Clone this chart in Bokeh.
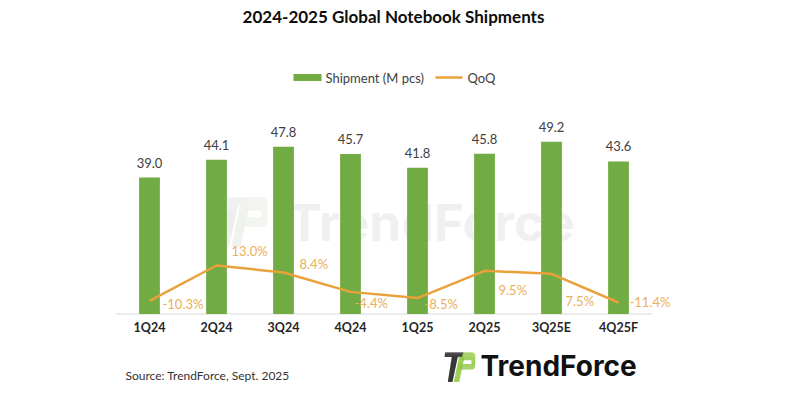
from bokeh.plotting import figure
from bokeh.models import ColumnDataSource, Range1d, FactorRange, Label, BoxAnnotation
from bokeh.embed import file_html
from bokeh.resources import INLINE
from bokeh.core.properties import value

# ---------------- data ----------------
quarters = ["1Q24", "2Q24", "3Q24", "4Q24", "1Q25", "2Q25", "3Q25E", "4Q25F"]
shipments = [39.0, 44.1, 47.8, 45.7, 41.8, 45.8, 49.2, 43.6]
qoq = [-10.3, 13.0, 8.4, -4.4, -8.5, 9.5, 7.5, -11.4]

title_text = "2024-2025 Global Notebook Shipments"
legend_bar = "Shipment (M pcs)"
legend_line = "QoQ"
source_text = "Source: TrendForce, Sept. 2025"
brand = "TrendForce"

# label placement (screen px offsets, layout only)
qoq_dx = [13, 15, 16, 4, 7, 14, 14, 11]
qoq_dy = [3, -14, -8, 11, 6, 19, 27, 0]

GREEN = "#71AB43"
ORANGE = "#E9A23B"
ORANGE_TXT = "#EAB05C"
FONT = "Lato"

W, H = 784, 383
FW = 767                 # frame width (symmetric categorical padding)
CAT = 67.0               # px per category
BASE = 313.5             # baseline y (px from top)
PXU = 3.5                # px per M pcs
Q0, QPX = 284.7, 1.516   # y of 0 % and px per %

p = figure(width=W, height=H, output_backend="svg", toolbar_location=None,
           x_range=FactorRange(*quarters, range_padding=(FW / 2 - 4 * CAT) / CAT,
                               range_padding_units="absolute"),
           y_range=Range1d(-(H - BASE) / PXU, BASE / PXU),
           min_border_left=0, min_border_right=W - FW,
           min_border_top=0, min_border_bottom=0,
           y_axis_location=None)
p.extra_y_ranges = {"qoq": Range1d(-(H - Q0) / QPX, Q0 / QPX), "px": Range1d(H, 0)}
p.outline_line_color = None
p.xgrid.visible = False
p.ygrid.visible = False
p.background_fill_color = "white"
p.border_fill_color = "white"

xa = p.xaxis[0]
xa.fixed_location = 0
xa.axis_line_color = None
xa.major_tick_line_color = None
xa.minor_tick_line_color = None
xa.major_tick_out = 0
xa.major_tick_in = 0
xa.major_label_standoff = 6
xa.major_label_text_font = FONT
xa.major_label_text_font_style = "bold"
xa.major_label_text_font_size = "12.5px"
xa.major_label_text_color = "#262626"

# ---------------- helpers (screen x, px-y) ----------------
def box(l, r, t, b, col, level="annotation"):
    p.add_layout(BoxAnnotation(left=l, right=r, top=t, bottom=b,
                               left_units="screen", right_units="screen",
                               y_range_name="px", fill_color=col, fill_alpha=1,
                               line_color=None, level=level))

def scan_fill(poly_pts, ox, oy, s, col, level="annotation"):
    ys = [b for a, b in poly_pts]
    y0, y1 = min(ys), max(ys)
    n = max(1, int(round((y1 - y0) * s)))
    for k in range(n):
        yc = y0 + (k + 0.5) * (y1 - y0) / n
        xs = []
        m = len(poly_pts)
        for i in range(m):
            (ax, ay), (bx, by) = poly_pts[i], poly_pts[(i + 1) % m]
            if (ay - yc) * (by - yc) <= 0 and ay != by:
                xs.append(ax + (yc - ay) * (bx - ax) / (by - ay))
        if len(xs) >= 2:
            t = oy + s * (y0 + k * (y1 - y0) / n)
            b = oy + s * (y0 + (k + 1) * (y1 - y0) / n)
            box(ox + s * min(xs), ox + s * max(xs), t, b, col, level)

ICON_BLACK = [
    [(0.7, 0), (19.3, 0), (17.7, 4.3), (0, 4.3)],
    [(7.3, 4.3), (13.3, 4.3), (8.0, 29.3), (3.3, 29.3)],
]
ICON_GREEN = [
    [(18.5, 0), (28.5, 0), (30.7, 2), (30.7, 7.7), (16.5, 7.7)],
    [(27.0, 7.7), (30.7, 7.7), (30.7, 11.7), (27.0, 11.7)],
    [(14.5, 11.7), (30.7, 11.7), (30.2, 15.5), (28.5, 17.0), (13.5, 17.0)],
    [(14.5, 4.3), (20.0, 4.3), (14.7, 29.3), (9.3, 29.3)],
]

def icon(ox, oy, s, black, green, level="annotation"):
    for pts in ICON_BLACK:
        scan_fill(pts, ox, oy, s, black, level)
    for pts in ICON_GREEN:
        scan_fill(pts, ox, oy, s, green, level)

def lab(x, y, text, size, color="#262626", style="normal", align="left", font=FONT,
        level="annotation"):
    p.add_layout(Label(x=x, y=y, x_units="screen", y_range_name="px", text=text,
                       text_font=font, text_font_size=size, text_font_style=style,
                       text_color=color, text_align=align, text_baseline="middle",
                       level=level))

# ---------------- watermark (behind) ----------------
icon(215, 197, 1.7, "#EEEEEE", "#EEF2EA", level="underlay")
lab(287, 221, brand, "51.5px", color="#F0F0F0", style="bold", font="Inter",
    level="underlay")

# ---------------- axis baseline ----------------
p.segment(x0=[(quarters[0], -0.5)], x1=[(quarters[-1], 0.5)], y0=[0], y1=[0],
          line_color="#D9D9D9", line_width=1)

# ---------------- bars ----------------
src = ColumnDataSource(dict(q=quarters, s=shipments,
                            slab=[f"{v:.1f}" for v in shipments],
                            r=qoq, rlab=[f"{v:.1f}%" for v in qoq],
                            dx=qoq_dx, dy=qoq_dy))
p.vbar(x="q", top="s", width=0.31, source=src, fill_color=GREEN, line_color=None)
p.text(x="q", y="s", text="slab", source=src, y_offset=-15,
       text_align="center", text_baseline="middle",
       text_font=value(FONT), text_font_size="13px", text_color="#404040")

# ---------------- QoQ line ----------------
p.line(x="q", y="r", source=src, y_range_name="qoq", line_color=ORANGE, line_width=2.5)
p.text(x="q", y="r", text="rlab", source=src, y_range_name="qoq",
       x_offset="dx", y_offset="dy", text_align="left", text_baseline="middle",
       text_font=value(FONT), text_font_size="13px", text_color=ORANGE_TXT)

# ---------------- title / legend / source ----------------
lab(393, 16, title_text, "17px", color="#0D0D0D", style="bold", align="center")

box(293, 321, 73.5, 80.5, GREEN)
lab(325, 77, legend_bar, "13px", color="#404040")
box(435, 462, 75.8, 78.2, ORANGE)
lab(467, 77, legend_line, "13px", color="#404040")

lab(125, 374.5, source_text, "12px", color="#333333")

# ---------------- logo ----------------
icon(444, 352, 1.0, "#111111", "#8CC63F")
lab(480, 365.5, brand, "28px", color="#111111", style="bold", font="Inter")

open("out.html", "w").write(file_html(p, INLINE))
